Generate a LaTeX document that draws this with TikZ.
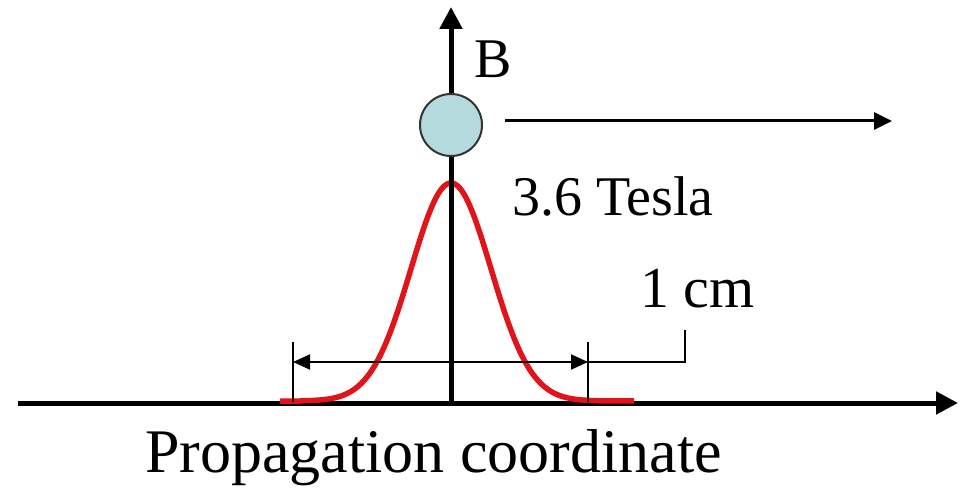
\documentclass[tikz,border=0pt]{standalone}
\usepackage{fontspec}
\setmainfont{Liberation Serif}
\usetikzlibrary{arrows.meta}
\definecolor{ballblue}{HTML}{B4DADE}
\definecolor{curvered}{HTML}{E2141B}
\tikzset{
  axis/.style={line width=5pt, -{Triangle[length=22pt,width=22pt]}},
  thin/.style={line width=2pt},
  label/.style={inner sep=0pt, font=\fontsize{56}{60}\selectfont},
}
\begin{document}
\begin{tikzpicture}[x=1pt,y=-1pt]
\useasboundingbox (0,0) rectangle (969,489);
% coordinates
\coordinate (hl) at (18,403);
\coordinate (hr) at (958,403);
\coordinate (vb) at (451,405);
\coordinate (vt) at (451,7);
% horizontal axis
\draw[axis] (hl) -- (hr);
% gaussian
\draw[curvered, line width=5.5pt] (280,401) -- (300,401)
  plot[domain=300:602, samples=120, smooth] (\x,{401-218*exp(-0.5*((\x-451)/40)^2)}) -- (634,401);
% vertical axis
\draw[axis] (vb) -- (vt);
% ball
\node[circle, draw=black!80, line width=2pt, fill=ballblue, minimum size=62pt, inner sep=0pt] (ball) at (451,125) {};
% velocity arrow
\coordinate (va) at (505,121);
\coordinate (vz) at (892,121);
\draw[line width=3pt, -{Triangle[length=18pt,width=17pt]}] (va) -- (vz);
% width marker
\coordinate (tl1) at (293,342);
\coordinate (tl2) at (293,402);
\coordinate (tr1) at (588,342);
\coordinate (tr2) at (588,402);
\draw[thin] (tl1) -- (tl2);
\draw[thin] (tr1) -- (tr2);
\coordinate (al) at (293,362);
\coordinate (ar) at (588,362);
\draw[thin, {Triangle[length=17pt,width=15pt]}-{Triangle[length=17pt,width=15pt]}] (al) -- (ar);
\coordinate (lead) at (685,330);
\draw[thin] (ar) -- (685,362) -- (lead);
% labels
\node[label, anchor=base west] (B) at (474,78) {B};
\node[label, anchor=base west] (T) at (512,215) {3.6 Tesla};
\node[label, anchor=base west, font=\fontsize{58}{62}\selectfont] (cm) at (640,307) {1 cm};
\node[label, anchor=base west, font=\fontsize{62}{66}\selectfont] (P) at (145,472) {Propagation coordinate};
\end{tikzpicture}
\end{document}
